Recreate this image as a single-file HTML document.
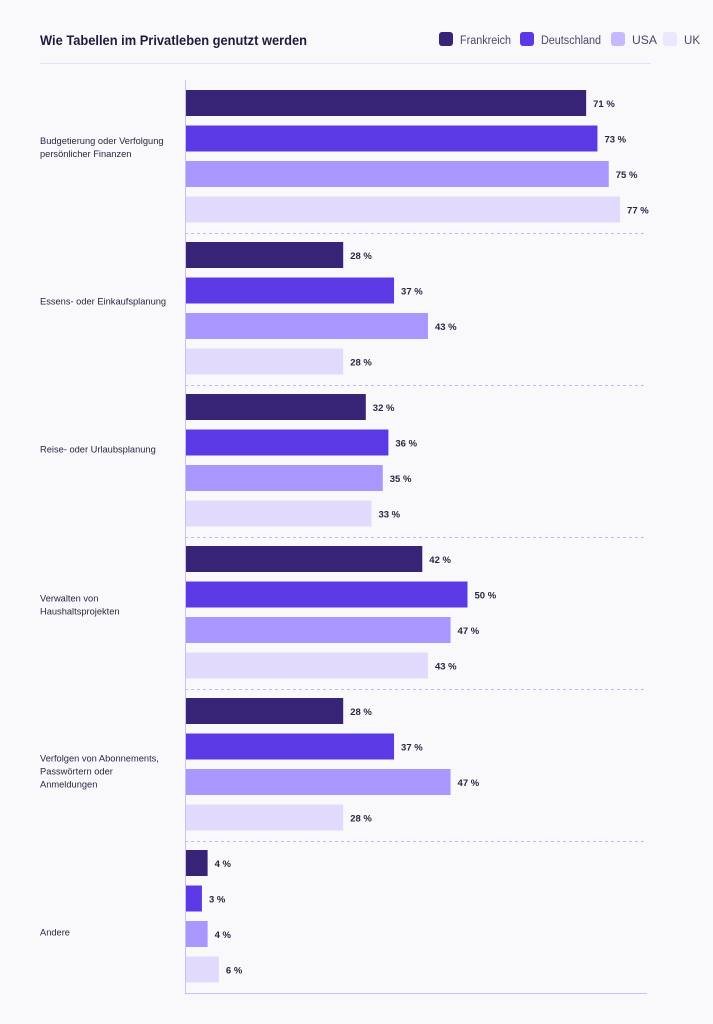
<!DOCTYPE html>
<html><head><meta charset="utf-8"><style>
body{margin:0;background:#f9f9fb;font-family:"Liberation Sans",sans-serif;}
#c{position:relative;width:713px;height:1024px;overflow:hidden;}
</style></head><body><div id="c">
<svg id="s" width="713" height="1024">
<text x="40" y="45" font-size="14" font-weight="bold" fill="#1f1b3a" textLength="267" lengthAdjust="spacingAndGlyphs">Wie Tabellen im Privatleben genutzt werden</text>
<line x1="40" y1="63.5" x2="651" y2="63.5" stroke="#e4e0fb"/>
</svg></div>
<script>
const categories=[["Budgetierung oder Verfolgung","persönlicher Finanzen"],["Essens- oder Einkaufsplanung"],["Reise- oder Urlaubsplanung"],["Verwalten von","Haushaltsprojekten"],["Verfolgen von Abonnements,","Passwörtern oder","Anmeldungen"],["Andere"]];
const seriesNames=["Frankreich","Deutschland","USA","UK"];
const frankreich=[71,28,32,42,28,4];
const deutschland=[73,37,36,50,37,3];
const usa=[75,43,35,47,47,4];
const uk=[77,28,33,43,28,6];
const series=[frankreich,deutschland,usa,uk];
const colors=["#372476","#5b3ae6","#a996ff","#e1dafd"];
const legendColors=["#372476","#5b3ae6","#c6b9ff","#ebe7fd"];
const legendX=[439,520,611,663];
const legendW=[51,60,25,16];
const labelOffset=[-9,-7,-11,-7.5,7,16];
const ns="http://www.w3.org/2000/svg",s=document.getElementById("s");
function x(v){return 185+v*5.65;}
function gy(i){return 90+i*152;}
function mk(t,a){const e=document.createElementNS(ns,t);for(const k in a)e.setAttribute(k,a[k]);s.appendChild(e);return e;}
seriesNames.forEach((n,i)=>{
 const r=mk("rect",{x:legendX[i],y:32,width:14,height:14,rx:3,fill:legendColors[i]});
 
 
 const t=mk("text",{x:legendX[i]+21,y:44,"font-size":11.5,fill:"#4a4763",textLength:legendW[i],lengthAdjust:"spacingAndGlyphs"});t.textContent=n;
 
 
});
categories.forEach((c,g)=>{
 const y0=gy(g);
 series.forEach((arr,k)=>{
  const y=y0+k*35.5;
  const r=mk("rect",{x:185,y:y,width:x(arr[g])-185,height:26,fill:colors[k]});
  
  
  const t=mk("text",{x:x(arr[g])+7,y:y+17,"font-size":9.5,"font-weight":"bold",fill:"#2a2640"});t.textContent=arr[g]+" %";
  
  
 });
 const cy=y0+66+labelOffset[g]-(c.length-1)*6.5;
 c.forEach((l,j)=>{const t=mk("text",{x:40,y:cy+3.5+j*13,"font-size":9.3,fill:"#2a2640"});t.textContent=l;
  
  });
 if(g<categories.length-1){const d=mk("line",{x1:185,x2:647,y1:y0+143.5,y2:y0+143.5,stroke:"#c4baf3","stroke-dasharray":"3,3"});
  
  }
});
const ax=mk("line",{x1:185.5,x2:185.5,y1:80,y2:994,stroke:"#c9c0f5"});


const bx=mk("line",{x1:185,x2:647,y1:993.5,y2:993.5,stroke:"#c9c0f5"});


</script></body></html>
